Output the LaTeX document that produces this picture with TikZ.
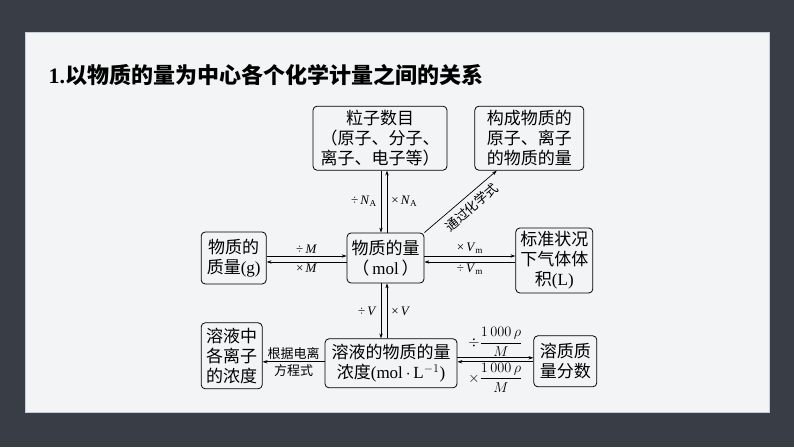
\documentclass[tikz,border=0pt]{standalone}
\usepackage{fontspec}
\setmainfont{Liberation Serif}
\newfontfamily\cjk{Noto Sans CJK SC}
\usetikzlibrary{arrows.meta, positioning}

\definecolor{slate}{HTML}{383D46}
\definecolor{paper}{HTML}{F3F4F5}
\definecolor{rim}{HTML}{C3CEDA}

\begin{document}
\begin{tikzpicture}[
  x=1pt, y=1pt,
  node distance=60pt,
  box/.style={rectangle, rounded corners=4pt, draw=black, line width=0.8pt,
              align=center, inner sep=1pt, font=\cjk\fontsize{17}{20}\selectfont},
  lbl/.style={font=\cjk\fontsize{13}{15}\selectfont, inner sep=2pt},
  frac/.style={font=\fontsize{14}{16}\selectfont, inner sep=1pt},
  arr/.style={-{Stealth[length=5pt, width=3.4pt]}, line width=0.7pt}
]

% --- Slide background ---
\fill[slate] (0,0) rectangle (794,447);
\fill[paper, draw=rim, line width=1pt] (25,35) rectangle (769,414);
\useasboundingbox (0,0) rectangle (794,447);

\node[anchor=west, font=\cjk\bfseries\fontsize{22}{26}\selectfont] (title) at (45,372)
      {\textrm{\textbf{1.}}以物质的量为中心各个化学计量之间的关系};

% --- Centre node ---
\node[box, minimum width=77pt, minimum height=50pt] (mol) at (385.5,189)
      {物质的量\\（\,\textrm{mol}\,）};

% --- Surrounding nodes ---
\node[box, above=62pt of mol, xshift=-5.5pt, minimum width=134pt, minimum height=64pt] (count)
      {粒子数目\\（原子、分子、\\离子、电子等）};
\node[box, right=27pt of count, minimum width=109pt, minimum height=64pt] (atoms)
      {构成物质的\\原子、离子\\的物质的量};
\node[box, left=80pt of mol, minimum width=65pt, minimum height=52pt] (mass)
      {物质的\\质量\textrm{(g)}};
\node[box, right=91pt of mol, yshift=-2.5pt, minimum width=77pt, minimum height=65pt] (gas)
      {标准状况\\下气体体\\积\textrm{(L)}};
\node[box, below=55pt of mol, xshift=5.5pt, minimum width=132pt, minimum height=49pt] (conc)
      {溶液的物质的量\\浓度\textrm{(mol\,$\cdot$\,L$^{-1}$)}};
\node[box, left=62pt of conc, yshift=7.5pt, minimum width=61pt, minimum height=66pt] (ions)
      {溶液中\\各离子\\的浓度};
\node[box, right=76pt of conc, yshift=2pt, minimum width=63pt, minimum height=51pt] (wfrac)
      {溶质质\\量分数};

% --- Helper points ---
\coordinate (vdown) at ([xshift=-4.5pt]mol.north);
\coordinate (vup)   at ([xshift=1.5pt]mol.north);
\coordinate (mw1) at ([yshift=2pt]mol.west);
\coordinate (mw2) at ([yshift=-4pt]mol.west);
\coordinate (me1) at ([yshift=2pt]mol.east);
\coordinate (me2) at ([yshift=-4pt]mol.east);
\coordinate (cw)  at ([yshift=1.5pt]conc.west);
\coordinate (ce1) at ([yshift=5.5pt]conc.east);
\coordinate (ce2) at ([yshift=1.5pt]conc.east);

% --- Connectors ---
\draw[arr] (vdown |- count.south) -- node[lbl, left=2pt]  {\textrm{÷\,\textit{N}\textsubscript{A}}} (vdown);
\draw[arr] (vup) -- node[lbl, right=2pt] {\textrm{×\,\textit{N}\textsubscript{A}}} (vup |- count.south);

\draw[arr] (mol.north east) -- node[lbl, sloped, below=3pt, pos=0.55] {通过化学式} ([xshift=-32.5pt]atoms.south);

\draw[arr] (mass.east |- mw1) -- node[lbl, above] {\textrm{÷\,\textit{M}}} (mw1);
\draw[arr] (mw2) -- node[lbl, below] {\textrm{×\,\textit{M}}} (mass.east |- mw2);

\draw[arr] (me1) -- node[lbl, above] {\textrm{×\,\textit{V}\textsubscript{m}}} (gas.west |- me1);
\draw[arr] (gas.west |- me2) -- node[lbl, below] {\textrm{÷\,\textit{V}\textsubscript{m}}} (me2);

\draw[arr] (vdown |- mol.south) -- node[lbl, left=2pt]  {\textrm{÷\,\textit{V}}} (vdown |- conc.north);
\draw[arr] (vup |- conc.north) -- node[lbl, right=2pt] {\textrm{×\,\textit{V}}} (vup |- mol.south);

\draw[arr] (cw) -- node[lbl, above] {根据电离} node[lbl, below] {方程式} (ions.east |- cw);

\draw[arr] (ce1) -- node[frac, above] {$\div\displaystyle\frac{1\,000\,\rho}{M}$} (wfrac.west |- ce1);
\draw[arr] (wfrac.west |- ce2) -- node[frac, below] {$\times\displaystyle\frac{1\,000\,\rho}{M}$} (ce2);

\end{tikzpicture}
\end{document}
